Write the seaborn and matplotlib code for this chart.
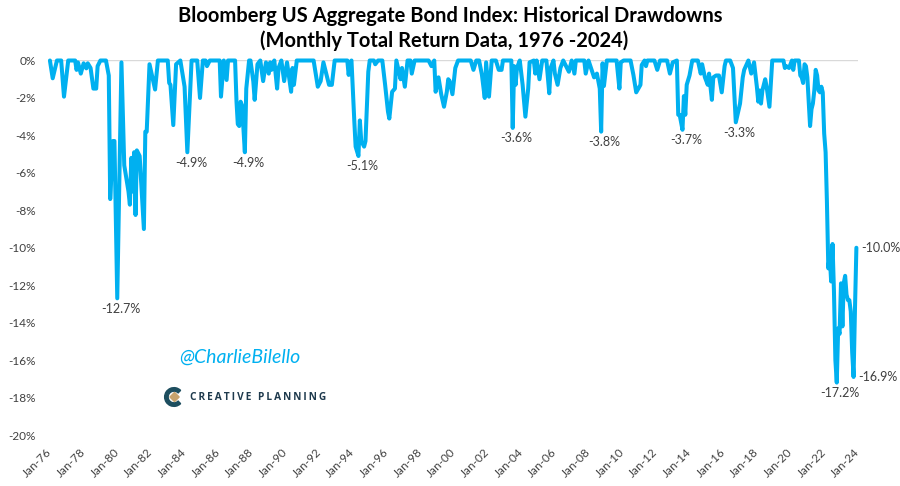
import pandas as pd
import numpy as np
import matplotlib.pyplot as plt
import matplotlib.patches as mpatches
import seaborn as sns

# Drawdown vertices (month, % below prior peak)
months = [
    "1976-01", "1976-03", "1976-06", "1976-09", "1976-11", "1977-02", "1977-07", "1977-08",
    "1977-09", "1977-11", "1978-01", "1978-03", "1978-04", "1978-06", "1978-08", "1978-10",
    "1978-11", "1979-01", "1979-05", "1979-07", "1979-08", "1979-10", "1979-11", "1980-01",
    "1980-04", "1980-06", "1980-09", "1980-10", "1980-11", "1980-12", "1981-01", "1981-02",
    "1981-03", "1981-05", "1981-08", "1981-09", "1981-10", "1981-12", "1982-04", "1982-06",
    "1983-01", "1983-02", "1983-03", "1983-05", "1983-07", "1983-10", "1984-01", "1984-03",
    "1984-06", "1984-10", "1984-12", "1985-02", "1985-04", "1985-05", "1985-07", "1986-02",
    "1986-03", "1986-05", "1986-07", "1986-08", "1987-01", "1987-02", "1987-03", "1987-04",
    "1987-05", "1987-06", "1987-08", "1987-09", "1987-11", "1987-12", "1988-02", "1988-03",
    "1988-05", "1988-07", "1988-09", "1988-11", "1989-01", "1989-02", "1989-03", "1989-05",
    "1989-07", "1989-08", "1989-10", "1989-12", "1990-02", "1990-05", "1990-06", "1990-07",
    "1990-09", "1991-09", "1991-12", "1992-02", "1992-04", "1992-05", "1992-08", "1992-10",
    "1992-12", "1993-09", "1993-10", "1993-11", "1993-12", "1994-02", "1994-03", "1994-05",
    "1994-06", "1994-07", "1994-09", "1994-10", "1994-12", "1995-01", "1995-04", "1995-05",
    "1995-07", "1995-10", "1995-12", "1996-02", "1996-03", "1996-05", "1996-07", "1996-08",
    "1996-11", "1996-12", "1997-02", "1997-04", "1997-06", "1997-07", "1997-09", "1998-07",
    "1998-09", "1998-11", "1998-12", "1999-02", "1999-04", "1999-06", "1999-08", "1999-09",
    "1999-10", "1999-12", "2000-02", "2000-04", "2001-01", "2001-03", "2001-05", "2001-07",
    "2001-09", "2001-11", "2001-12", "2002-02", "2002-04", "2002-07", "2002-09", "2002-11",
    "2002-12", "2003-06", "2003-07", "2003-08", "2003-09", "2003-10", "2003-12", "2004-02",
    "2004-04", "2004-06", "2004-07", "2004-10", "2004-11", "2004-12", "2005-02", "2005-04",
    "2005-07", "2005-09", "2005-10", "2005-12", "2006-01", "2006-03", "2006-05", "2006-07",
    "2006-11", "2007-01", "2007-03", "2007-04", "2007-10", "2007-11", "2008-01", "2008-05",
    "2008-07", "2008-09", "2008-10", "2008-11", "2008-12", "2009-02", "2009-09", "2009-11",
    "2009-12", "2010-02", "2010-07", "2010-09", "2010-11", "2011-02", "2011-03", "2011-05",
    "2011-06", "2011-07", "2011-12", "2012-02", "2012-04", "2012-09", "2012-11", "2013-01",
    "2013-04", "2013-05", "2013-06", "2013-08", "2013-09", "2013-10", "2013-11", "2014-01",
    "2014-03", "2014-07", "2014-09", "2014-10", "2014-12", "2015-02", "2015-03", "2015-05",
    "2015-06", "2015-08", "2015-10", "2015-12", "2016-02", "2016-03", "2016-06", "2016-08",
    "2016-10", "2017-01", "2017-03", "2017-04", "2017-07", "2017-09", "2017-11", "2018-01",
    "2018-02", "2018-03", "2018-04", "2018-05", "2018-07", "2018-08", "2018-10", "2018-12",
    "2019-08", "2019-09", "2019-10", "2019-12", "2020-02", "2020-03", "2020-04", "2020-07",
    "2020-08", "2020-09", "2020-10", "2020-11", "2020-12", "2021-01", "2021-02", "2021-03",
    "2021-04", "2021-05", "2021-06", "2021-07", "2021-08", "2021-09", "2021-10", "2021-11",
    "2021-12", "2022-01", "2022-02", "2022-03", "2022-04", "2022-05", "2022-06", "2022-07",
    "2022-08", "2022-09", "2022-10", "2022-11", "2022-12", "2023-01", "2023-02", "2023-03",
    "2023-04", "2023-05", "2023-06", "2023-07", "2023-08", "2023-09", "2023-10", "2023-11",
    "2023-12",
]
drawdown = [
    0.0, -0.95, 0.0, 0.0, -1.93, 0.0, 0.0, -0.5,
    -0.1, -0.7, -0.15, -0.42, -0.15, -0.4, -1.5, -1.5,
    -0.3, 0.0, 0.0, -0.8, -7.4, -4.3, -4.3, -12.7,
    -0.1, -5.6, -7.0, -7.7, -5.2, -7.0, -4.9, -8.25,
    -4.8, -5.1, -9.0, -3.8, -3.8, -0.2, -1.55, 0.0,
    0.0, -1.2, -1.3, -3.45, -0.2, 0.0, -1.4, -4.9,
    0.0, 0.0, -2.0, 0.0, 0.0, -0.3, 0.0, 0.0,
    -1.93, 0.0, -1.04, 0.0, 0.0, -2.2, -3.4, -3.5,
    -2.2, -2.4, -4.9, -1.5, 0.0, 0.0, -1.13, -2.1,
    -0.2, 0.0, -1.1, -0.1, -0.7, -0.1, -0.5, 0.0,
    -1.5, -0.4, 0.0, -1.1, -0.1, -1.67, -0.4, -1.3,
    0.0, 0.0, -1.4, -1.1, -0.1, -0.4, -1.3, -1.3,
    0.0, 0.0, -0.77, -0.1, 0.0, -3.27, -4.6, -5.1,
    -3.2, -4.3, -4.6, -4.3, -0.6, 0.0, 0.0, -0.2,
    0.0, 0.0, -1.3, -2.73, -3.1, -1.67, -1.5, 0.0,
    -1.0, -0.4, -1.4, 0.0, 0.0, -0.7, 0.0, 0.0,
    -0.3, 0.0, -1.67, -0.9, -1.8, -2.47, -1.67, -1.0,
    -1.1, -1.8, -0.4, 0.0, 0.0, -0.5, 0.0, 0.0,
    -0.77, -2.0, -0.1, -1.93, 0.0, 0.0, -0.5, -0.5,
    0.0, 0.0, -3.6, -0.3, -1.3, -0.4, 0.0, -1.3,
    -3.0, -1.5, -0.1, 0.0, -0.7, 0.0, -1.0, 0.0,
    0.0, -1.75, -0.4, 0.0, -0.7, -1.3, -0.4, 0.0,
    -0.6, 0.0, -0.7, 0.0, 0.0, -0.7, 0.0, -0.9,
    -0.7, -1.5, -3.8, -0.15, -1.36, 0.0, 0.0, -1.5,
    -0.1, 0.0, 0.0, -0.77, -1.7, -1.3, -0.24, 0.0,
    -0.3, 0.0, 0.0, -0.5, 0.0, 0.0, -0.7, -0.1,
    0.0, -2.9, -2.9, -3.7, -1.9, -2.9, -1.3, -0.8,
    0.0, 0.0, -0.7, -0.2, -0.9, -1.3, -0.7, -2.1,
    -0.9, -0.8, -0.8, -1.7, -0.3, 0.0, 0.0, -0.4,
    -3.3, -2.3, -0.9, -0.5, 0.0, -0.7, -0.1, -1.4,
    -2.2, -1.6, -2.3, -1.6, -1.0, -1.4, -2.47, 0.0,
    0.0, -0.4, -0.3, -0.4, 0.0, -0.5, 0.0, 0.0,
    -0.8, -0.9, -1.2, -0.2, -0.3, -0.9, -2.3, -3.5,
    -2.6, -2.3, -1.6, -0.5, -0.8, -1.6, -1.7, -1.4,
    -1.7, -3.9, -4.9, -7.5, -11.1, -10.4, -11.8, -9.8,
    -12.3, -16.0, -17.2, -14.3, -14.6, -11.9, -14.2, -11.9,
    -11.5, -12.5, -12.8, -12.8, -13.4, -15.6, -16.9, -13.2,
    -10.0,
]

# months that carry a value label
below_labels = ["1980-01", "1984-03", "1987-08", "1994-05", "2003-07",
                "2008-10", "2013-08", "2016-10", "2022-10"]
right_labels = ["2023-10", "2023-12"]

tick_years = list(range(1976, 2025, 2))
y_ticks = list(range(-20, 1, 2))

df = pd.DataFrame({"Date": pd.to_datetime(months), "Drawdown": drawdown})

sns.set_theme(style="white")
plt.rcParams["font.family"] = ["Lato", "DejaVu Sans"]

blue = "#00B0F0"
grey_txt = "#404040"

fig, ax = plt.subplots(figsize=(9, 4.86), dpi=100)
fig.subplots_adjust(left=48.5 / 900, right=858 / 900, top=1 - 60.5 / 486, bottom=1 - 435 / 486)

ax.axhline(0, color="#d9d9d9", lw=1, zorder=1)
sns.lineplot(data=df, x="Date", y="Drawdown", color=blue, lw=2.9, ax=ax,
             zorder=3, clip_on=False)

ax.set_xlim(pd.Timestamp("1975-12-01"), pd.Timestamp("2024-01-05"))
ax.set_ylim(-20, 0)
ax.set_xlabel("")
ax.set_ylabel("")

ax.set_yticks(y_ticks)
ax.set_yticklabels([f"{v}%" for v in y_ticks], fontsize=8.5, color=grey_txt)
ax.set_xticks(pd.to_datetime([f"{y}-01-01" for y in tick_years]))
ax.set_xticklabels([f"Jan-{y % 100:02d}" for y in tick_years], rotation=45,
                   ha="right", va="center", rotation_mode="anchor",
                   fontsize=8.5, color=grey_txt)
ax.tick_params(axis="x", length=0, pad=11)
ax.tick_params(axis="y", length=0, pad=9)
sns.despine(ax=ax, left=True, bottom=True)

# value labels
lookup = dict(zip(months, drawdown))
for m in below_labels:
    v = lookup[m]
    ax.annotate(f"{v:.1f}%", xy=(pd.Timestamp(m), v), xytext=(2.5, -7.5),
                textcoords="offset points", ha="center", va="center",
                fontsize=9, color=grey_txt, annotation_clip=False)
for m in right_labels:
    v = lookup[m]
    ax.annotate(f"{v:.1f}%", xy=(pd.Timestamp(m), v), xytext=(3.5, 0),
                textcoords="offset points", ha="left", va="center",
                fontsize=9, color=grey_txt, annotation_clip=False)

# title
fig.text(0.5, 1 - 16 / 486, "Bloomberg US Aggregate Bond Index: Historical Drawdowns",
         ha="center", va="center", fontsize=14.5, fontweight="bold", color="black")
fig.text(0.493, 1 - 41 / 486, "(Monthly Total Return Data, 1976 -2024)",
         ha="center", va="center", fontsize=14.5, fontweight="bold", color="black")

# watermark and logo
fig.text(240 / 900, 1 - 357 / 486, "@CharlieBilello", ha="center", va="center",
         fontsize=14, style="italic", color=blue)
fig.patches.append(mpatches.Rectangle((162 / 900, 1 - 412 / 486), 168 / 900, 34 / 486,
                                      transform=fig.transFigure, color="#fafafa",
                                      zorder=-1))
fig.text(258 / 900, 1 - 397 / 486, "\u2009".join("CREATIVE PLANNING"), ha="center",
         va="center", fontsize=7.3, fontweight="bold", color="#1f3a4d",
         family=["Open Sans", "DejaVu Sans"])
lax = fig.add_axes([163 / 900, 1 - 408 / 486, 22 / 900, 22 / 486], zorder=5)
lax.set_xlim(-1, 1)
lax.set_ylim(-1, 1)
lax.set_aspect("equal")
lax.axis("off")
lax.add_patch(mpatches.Wedge((0, 0), 0.85, 45, 315, width=0.32, color="#1d4e5f"))
lax.add_patch(mpatches.Polygon([(0.05, 0.42), (0.47, 0), (0.05, -0.42), (-0.37, 0)],
                               color="#c7a36d"))

fig.savefig("out.png", dpi=100)
